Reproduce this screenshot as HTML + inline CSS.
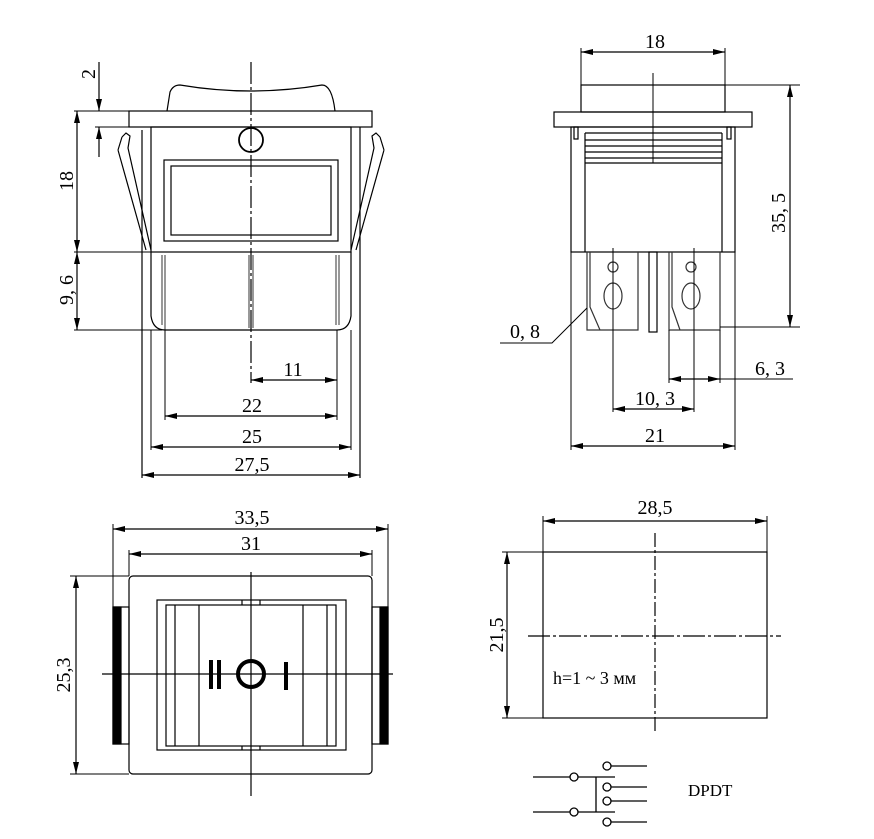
<!DOCTYPE html>
<html><head><meta charset="utf-8"><style>html,body{margin:0;padding:0;background:#fff}svg{display:block}</style></head>
<body>
<svg width="874" height="839" viewBox="0 0 874 839" xmlns="http://www.w3.org/2000/svg" font-family="Liberation Serif, serif" fill="none" stroke="#000" stroke-width="1.2">
<defs>
<marker id="a" viewBox="0 0 12 6" refX="12" refY="3" markerWidth="12" markerHeight="6" orient="auto-start-reverse" markerUnits="userSpaceOnUse"><path d="M0,0L12,3L0,6z" fill="#000" stroke="none"/></marker>
</defs>

<!-- ===== TOP LEFT VIEW ===== -->
<path d="M167,111 L170,92 Q173,85 180,85 Q251,97 322,85 Q332,85 335,111"/>
<rect x="129" y="111" width="243" height="16"/>
<rect x="151" y="127" width="200" height="125"/>
<line x1="142" y1="130" x2="142" y2="478"/>
<line x1="360" y1="127" x2="360" y2="478"/>
<circle cx="251" cy="140" r="12" stroke-width="1.8"/>
<rect x="164" y="160" width="174" height="81"/>
<rect x="171" y="166" width="160" height="69"/>
<path d="M151,252 L151,316 Q153,330 165,330 L337,330 Q349,330 351,316 L351,252"/>
<path d="M162,255 V325 M165,255 V330 M249,255 V328 M253,255 V328 M336,255 V325 M339,255 V325" stroke-width="0.8"/>
<path d="M122,137 L126,133 L130,136 L128,148 L151,250 M118,150 L122,137 M118,150 L146,250"/>
<path d="M380,137 L376,133 L372,136 L374,148 L351,250 M384,150 L380,137 M384,150 L356,250"/>
<line x1="251" y1="62" x2="251" y2="383" stroke-dasharray="22,3,3,3"/>
<!-- dims -->
<path d="M74,111 H129 M95,127 H129 M74,252 H151 M74,330 H162" stroke-width="1"/>
<line x1="99" y1="62" x2="99" y2="111" marker-end="url(#a)"/>
<line x1="99" y1="157" x2="99" y2="127" marker-end="url(#a)"/>
<line x1="77" y1="111" x2="77" y2="252" marker-start="url(#a)" marker-end="url(#a)"/>
<line x1="77" y1="252" x2="77" y2="330" marker-start="url(#a)" marker-end="url(#a)"/>
<path d="M165,330 V420 M337,330 V420" stroke-width="1"/>
<line x1="251" y1="380" x2="337" y2="380" marker-start="url(#a)" marker-end="url(#a)"/>
<line x1="165" y1="416" x2="337" y2="416" marker-start="url(#a)" marker-end="url(#a)"/>
<line x1="151" y1="447" x2="351" y2="447" marker-start="url(#a)" marker-end="url(#a)"/>
<line x1="151" y1="330" x2="151" y2="450" stroke-width="1"/>
<line x1="351" y1="330" x2="351" y2="450" stroke-width="1"/>
<line x1="142" y1="475" x2="360" y2="475" marker-start="url(#a)" marker-end="url(#a)"/>
<g fill="#000" stroke="none" font-size="20" text-anchor="middle">
<text transform="translate(95,74) rotate(-90)">2</text>
<text transform="translate(73,181) rotate(-90)">18</text>
<text transform="translate(73,290) rotate(-90)">9, 6</text>
<text x="293" y="376">11</text>
<text x="252" y="412">22</text>
<text x="252" y="443">25</text>
<text x="252" y="471">27,5</text>
</g>

<!-- ===== TOP RIGHT VIEW ===== -->
<rect x="581" y="85" width="144" height="27"/>
<rect x="554" y="112" width="198" height="15"/>
<rect x="571" y="127" width="164" height="125"/>
<path d="M585,133 V252 M722,133 V252 M585,133 H722 M585,140 H722 M585,146 H722 M585,152 H722 M585,158 H722 M585,163 H722"/>
<rect x="574" y="127" width="4" height="12"/>
<rect x="727" y="127" width="4" height="12"/>
<line x1="653" y1="73" x2="653" y2="163" stroke-width="1"/>
<g stroke="#333" stroke-width="1.2">
<path d="M587,252 V330 H638 V252 M590,252 V307 L600,330 M669,252 V330 H720 V252 M672,252 V307 L680,330"/>
<circle cx="613" cy="267" r="5"/><ellipse cx="613" cy="296" rx="9" ry="13"/>
<circle cx="691" cy="267" r="5"/><ellipse cx="691" cy="296" rx="9" ry="13"/>
</g>
<rect x="649" y="252" width="8" height="80"/>
<path d="M613,248 V412 M694,248 V412 M669,330 V383 M720,330 V383 M571,252 V450 M735,252 V450" stroke-width="1"/>
<path d="M581,48 V85 M725,48 V85 M725,85 H800 M720,327 H800" stroke-width="1"/>
<line x1="581" y1="52" x2="725" y2="52" marker-start="url(#a)" marker-end="url(#a)"/>
<line x1="790" y1="85" x2="790" y2="327" marker-start="url(#a)" marker-end="url(#a)"/>
<path d="M500,343 H552 L587,308" stroke-width="1"/>
<line x1="669" y1="379" x2="720" y2="379" marker-start="url(#a)" marker-end="url(#a)"/>
<line x1="720" y1="379" x2="793" y2="379" stroke-width="1"/>
<line x1="613" y1="409" x2="694" y2="409" marker-start="url(#a)" marker-end="url(#a)"/>
<line x1="571" y1="446" x2="735" y2="446" marker-start="url(#a)" marker-end="url(#a)"/>
<g fill="#000" stroke="none" font-size="20" text-anchor="middle">
<text x="655" y="48">18</text>
<text transform="translate(785,213) rotate(-90)">35, 5</text>
<text x="525" y="338">0, 8</text>
<text x="770" y="375">6, 3</text>
<text x="655" y="405">10, 3</text>
<text x="655" y="442">21</text>
</g>

<!-- ===== BOTTOM LEFT VIEW ===== -->
<rect x="129" y="576" width="243" height="198" rx="4"/>
<rect x="113" y="607" width="16" height="137"/>
<rect x="113" y="607" width="8" height="137" fill="#000"/>
<rect x="372" y="607" width="16" height="137"/>
<rect x="380" y="607" width="8" height="137" fill="#000"/>
<rect x="157" y="600" width="189" height="150"/>
<rect x="166" y="605" width="170" height="141"/>
<path d="M175,605 V746 M199,605 V746 M303,605 V746 M327,605 V746 M242,600 V605 M260,600 V605 M242,746 V750 M260,746 V750"/>
<line x1="251" y1="572" x2="251" y2="796"/>
<line x1="102" y1="674" x2="393" y2="674"/>
<path d="M211,660 V689 M219,660 V689 M286,662 V690" stroke-width="4"/>
<circle cx="251" cy="674" r="13" stroke-width="4"/>
<path d="M113,524 V607 M388,524 V607 M129,550 V576 M372,550 V576 M70,576 H129 M70,774 H129" stroke-width="1"/>
<line x1="113" y1="529" x2="388" y2="529" marker-start="url(#a)" marker-end="url(#a)"/>
<line x1="129" y1="554" x2="372" y2="554" marker-start="url(#a)" marker-end="url(#a)"/>
<line x1="76" y1="576" x2="76" y2="774" marker-start="url(#a)" marker-end="url(#a)"/>
<g fill="#000" stroke="none" font-size="20" text-anchor="middle">
<text x="252" y="524">33,5</text>
<text x="251" y="550">31</text>
<text transform="translate(70,675) rotate(-90)">25,3</text>
</g>

<!-- ===== BOTTOM RIGHT VIEW ===== -->
<rect x="543" y="552" width="224" height="166"/>
<line x1="655" y1="533" x2="655" y2="732" stroke-dasharray="14,3,3,3"/>
<line x1="528" y1="636" x2="781" y2="636" stroke-dasharray="22,3,3,3"/>
<path d="M543,516 V552 M767,516 V552 M502,552 H543 M502,718 H543" stroke-width="1"/>
<line x1="543" y1="521" x2="767" y2="521" marker-start="url(#a)" marker-end="url(#a)"/>
<line x1="507" y1="552" x2="507" y2="718" marker-start="url(#a)" marker-end="url(#a)"/>
<g fill="#000" stroke="none" font-size="20" text-anchor="middle">
<text x="655" y="514">28,5</text>
<text transform="translate(503,635) rotate(-90)">21,5</text>
<text x="553" y="684" text-anchor="start" font-size="18">h=1 ~ 3 мм</text>
</g>

<!-- ===== DPDT ===== -->
<g stroke-width="1.3">
<path d="M533,777 H570 M578,777 H615 M533,812 H570 M578,812 H615 M596,777 V812"/>
<circle cx="574" cy="777" r="4"/><circle cx="574" cy="812" r="4"/>
<circle cx="607" cy="766" r="4"/><circle cx="607" cy="787" r="4"/><circle cx="607" cy="801" r="4"/><circle cx="607" cy="822" r="4"/>
<path d="M611,766 H647 M611,787 H647 M611,801 H647 M611,822 H647"/>
</g>
<text x="688" y="796" fill="#000" stroke="none" font-size="17">DPDT</text>
</svg>
</body></html>
